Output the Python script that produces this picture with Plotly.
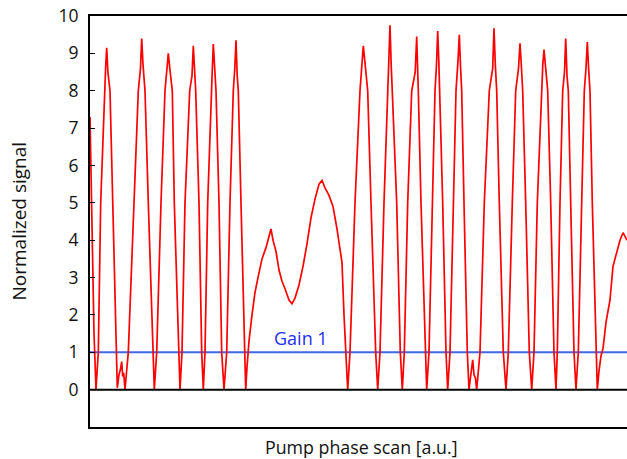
import plotly.graph_objects as go

# Pump phase scan position (a.u.) and normalized signal
scan = [90, 92, 94, 96, 98.3, 100.7, 104.3, 105.6, 106.7, 107.9, 110, 112.7, 115.7, 117.3,
        119, 120.5, 121.7, 122.7, 123.7, 125,
        128.3, 134, 138.3, 140.5, 141.7, 143, 145, 148.3, 152.7, 154.3,
        156.7, 161, 165, 167, 168.3, 169.8, 172.3, 174.3, 178.3, 180,
        182, 185, 189.7, 192, 193.3, 194.5, 195.7, 199, 201.7, 203.3,
        205, 207.7, 211, 212.2, 213.3, 214.5, 216, 219, 221.7, 224,
        226.7, 230, 233.3, 234.8, 236, 237.2, 238.3, 241, 244.3, 245.7,
        247, 249, 252, 255, 258, 262, 266, 269, 271, 273, 276, 279, 282, 285,
        289, 292, 295, 299, 303, 307, 311, 315, 319, 322, 325, 329, 333, 337,
        340, 342, 344, 346, 347.7,
        350, 355, 360, 362, 363.3, 364.8, 367.7, 371, 375.7, 377.7,
        380, 384, 387.7, 389, 390, 391.2, 392.3, 396.7, 400.3, 402.3,
        404.3, 407.7, 411.7, 415.2, 416.7, 417.6, 418.3, 421, 425, 426.7,
        429, 432.3, 435, 436.5, 437.7, 438.8, 439.7, 442.7, 446, 447.7,
        450, 453.3, 456, 458, 459.3, 460.6, 461.7, 464, 467.3, 469,
        471, 472.7, 474, 475.5, 476.7,
        480, 484.3, 489.3, 492.7, 494, 495.3, 496.7, 499.3, 503.3, 506,
        508.3, 512.3, 515.7, 518.5, 520, 521.3, 522.7, 525.7, 529.3, 531.7,
        534, 537.3, 541.3, 542.8, 544, 545.5, 547.7, 550.7, 554, 556,
        557.3, 560, 562.7, 564.5, 565.7, 567, 568.3, 570.7, 574, 576,
        578.3, 581.7, 584.3, 586, 587.3, 588.6, 590, 592.3, 595.7, 597.3,
        599, 601, 603, 606, 610, 613, 616, 620, 623, 625, 627]
signal = [7.3, 4.5, 1.5, 0.0, 1.0, 5.0, 8.0, 8.6, 9.15, 8.5, 8.0, 5.0, 1.0, 0.05,
          0.4, 0.55, 0.75, 0.35, 0.45, 0.0,
          1.0, 5.0, 8.0, 8.6, 9.4, 8.7, 8.0, 5.0, 1.0, 0.0,
          1.0, 5.0, 8.0, 8.7, 9.0, 8.6, 8.0, 5.0, 1.0, 0.0,
          1.0, 5.0, 8.0, 8.4, 9.2, 8.5, 8.0, 5.0, 1.0, 0.0,
          1.0, 5.0, 8.0, 8.5, 9.25, 8.6, 8.0, 5.0, 1.0, 0.0,
          1.0, 5.0, 8.0, 8.6, 9.35, 8.4, 8.0, 5.0, 1.0, 0.0,
          0.6, 1.3, 2.0, 2.6, 3.0, 3.5, 3.8, 4.1, 4.3, 4.0, 3.7, 3.2, 2.9, 2.7,
          2.4, 2.3, 2.45, 2.8, 3.3, 3.9, 4.6, 5.1, 5.5, 5.6, 5.4, 5.2, 4.9, 4.3,
          3.8, 3.4, 2.0, 0.8, 0.0,
          1.0, 5.0, 8.0, 8.9, 9.2, 8.8, 8.0, 5.0, 1.0, 0.0,
          1.0, 5.0, 8.0, 8.6, 9.75, 8.7, 8.0, 5.0, 1.0, 0.0,
          1.0, 5.0, 8.0, 8.5, 9.45, 8.7, 8.0, 5.0, 1.0, 0.0,
          1.0, 5.0, 8.0, 8.7, 9.6, 8.8, 8.0, 5.0, 1.0, 0.0,
          1.0, 5.0, 8.0, 8.8, 9.5, 8.6, 8.0, 5.0, 1.0, 0.0,
          0.5, 0.8, 0.4, 0.3, 0.0,
          1.0, 5.0, 8.0, 8.6, 9.67, 8.7, 8.0, 5.0, 1.0, 0.0,
          1.0, 5.0, 8.0, 8.6, 9.27, 8.7, 8.0, 5.0, 1.0, 0.0,
          1.0, 5.0, 8.0, 8.7, 9.1, 8.6, 8.0, 5.0, 1.0, 0.0,
          1.0, 5.0, 8.0, 8.5, 9.4, 8.4, 8.0, 5.0, 1.0, 0.0,
          1.0, 5.0, 8.0, 8.6, 9.3, 8.6, 8.0, 5.0, 1.0, 0.0,
          0.5, 0.9, 1.1, 1.8, 2.4, 3.3, 3.6, 4.0, 4.2, 4.1, 4.0]

scan_span = [90, 627]
baseline = [0, 0]
gain_one = [1, 1]
y_ticks = [0, 1, 2, 3, 4, 5, 6, 7, 8, 9, 10]

font = "Open Sans, Noto Sans, sans-serif"
W, H = 627, 459
L, R, T, B = 90, 0, 16, 32
pw, ph = W - L - R, H - T - B

fig = go.Figure()
fig.add_trace(go.Scatter(x=scan_span, y=gain_one, mode="lines",
                         line=dict(color="#3f67e6", width=2), showlegend=False))
fig.add_trace(go.Scatter(x=scan, y=signal, mode="lines",
                         line=dict(color="#ff0000", width=1.7), showlegend=False))
fig.add_trace(go.Scatter(x=scan_span, y=baseline, mode="lines",
                         line=dict(color="#000000", width=2), showlegend=False))

fig.update_layout(
    width=W, height=H,
    margin=dict(l=L, r=R, t=T, b=B),
    paper_bgcolor="white", plot_bgcolor="white",
    font=dict(family=font, size=16, color="#111111"),
    xaxis=dict(range=scan_span, showline=True, mirror=True, linecolor="black",
               linewidth=2, showticklabels=False, ticks="", showgrid=False,
               zeroline=False),
    yaxis=dict(range=[-1, 10], tickvals=y_ticks, showline=True, mirror=False,
               linecolor="black", linewidth=2, ticks="inside", ticklen=5,
               tickcolor="black", showgrid=False, zeroline=False,
               ticklabelstandoff=6,
               tickfont=dict(family=font, size=17.5, color="#111111")),
    annotations=[
        dict(text="Gain 1", x=301, y=1, xref="x", yref="y", showarrow=False,
             yanchor="bottom", yshift=0,
             font=dict(family=font, size=18, color="#1f2ff0")),
        dict(text="Normalized signal", x=(18 - L) / pw, y=(H - B - 221.5) / ph,
             xref="paper", yref="paper", showarrow=False, textangle=-90,
             xanchor="center", yanchor="middle",
             font=dict(family=font, size=19, color="#111111")),
        dict(text="Pump phase scan [a.u.]", x=(361 - L) / pw, y=(H - B - 447) / ph,
             xref="paper", yref="paper", showarrow=False,
             xanchor="center", yanchor="middle",
             font=dict(family=font, size=17.8, color="#111111")),
    ],
)

fig.write_html("out.html")
